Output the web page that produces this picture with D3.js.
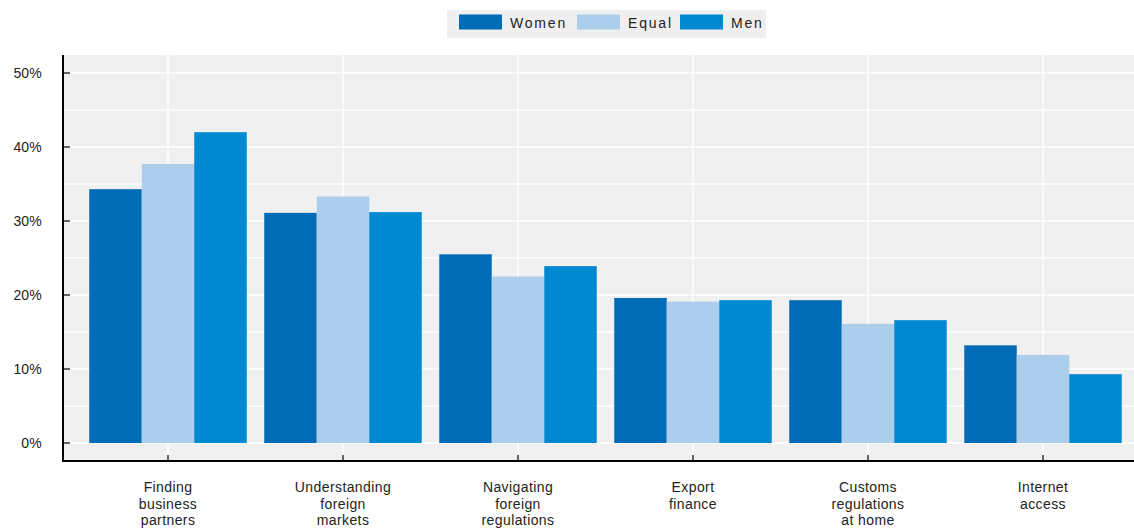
<!DOCTYPE html>
<html><head><meta charset="utf-8">
<script src="https://cdn.jsdelivr.net/npm/d3@7"></script>
<style>
body{margin:0;background:#fff;}
text{font-family:"Liberation Sans",Arial,sans-serif;fill:#222;}
</style></head>
<body><svg id="c" width="1134" height="528"></svg>
<script>
const categories = [
  ["Finding","business","partners"],
  ["Understanding","foreign","markets"],
  ["Navigating","foreign","regulations"],
  ["Export","finance"],
  ["Customs","regulations","at home"],
  ["Internet","access"]
];
const seriesNames = ["Women","Equal","Men"];
const women = [34.3, 31.1, 25.5, 19.6, 19.3, 13.2];
const equal = [37.7, 33.3, 22.5, 19.1, 16.1, 11.9];
const men   = [42.0, 31.2, 23.9, 19.3, 16.6, 9.3];
const yTicks = [0,10,20,30,40,50];
const colors = ["#006BB6","#ABCEEC","#0088D1"];

(function(){
const series = [women, equal, men];
const svg = d3.select("#c");
const pL = 63, pR = 1134, pT = 55, pB = 461;

const y = d3.scaleLinear().domain([0,50]).range([443,73]);
const keys = categories.map((c,i)=>i);
const x0 = d3.scaleBand().domain(keys).range([80.5,1130.5]).paddingInner(0.1).paddingOuter(0.05);
const x1 = d3.scaleBand().domain(seriesNames).range([0,x0.bandwidth()]);

svg.append("rect").attr("x",pL).attr("y",pT).attr("width",pR-pL).attr("height",pB-pT).attr("fill","#F0F0F0");

const grid = d3.range(0,51,5);
svg.append("g").selectAll("line").data(grid).join("line")
  .attr("x1",pL).attr("x2",pR).attr("y1",d=>y(d)).attr("y2",d=>y(d))
  .attr("stroke","#fff").attr("stroke-width",1.5);
svg.append("g").selectAll("line").data(keys).join("line")
  .attr("x1",d=>x0(d)+x0.bandwidth()/2).attr("x2",d=>x0(d)+x0.bandwidth()/2)
  .attr("y1",pT).attr("y2",pB).attr("stroke","#fff").attr("stroke-width",1.5);

const g = svg.append("g");
keys.forEach(i=>{
  seriesNames.forEach((s,j)=>{
    g.append("rect")
      .attr("x",x0(i)+x1(s)).attr("width",x1.bandwidth())
      .attr("y",y(series[j][i])).attr("height",y(0)-y(series[j][i]))
      .attr("fill",colors[j]);
  });
});

const yAxis = d3.axisLeft(y).tickValues(yTicks).tickFormat(d=>d+"%").tickSize(0).tickPadding(21);
const ya = svg.append("g").attr("transform",`translate(${pL},0)`).call(yAxis);
ya.select(".domain").remove();
ya.selectAll("text").attr("font-size",14).attr("letter-spacing","0.2px").style("font-family","'Liberation Sans',Arial,sans-serif").attr("fill","#222");
svg.append("g").selectAll("line").data(yTicks).join("line")
  .attr("x1",pL).attr("x2",pL+7).attr("y1",d=>y(d)).attr("y2",d=>y(d))
  .attr("stroke","#000").attr("stroke-width",1.2);
svg.append("line").attr("x1",pL).attr("x2",pL).attr("y1",pT).attr("y2",pB+1)
  .attr("stroke","#000").attr("stroke-width",2);

svg.append("line").attr("x1",pL-1).attr("x2",pR).attr("y1",pB).attr("y2",pB)
  .attr("stroke","#000").attr("stroke-width",2.2);
svg.append("g").selectAll("line").data(keys).join("line")
  .attr("x1",d=>x0(d)+x0.bandwidth()/2).attr("x2",d=>x0(d)+x0.bandwidth()/2)
  .attr("y1",pB-6).attr("y2",pB).attr("stroke","#000").attr("stroke-width",1.2);
const xl = svg.append("g");
keys.forEach(i=>{
  const t = xl.append("text").attr("text-anchor","middle").attr("font-size",14).attr("letter-spacing","0.4px")
    .attr("x",x0(i)+x0.bandwidth()/2).attr("y",492);
  categories[i].forEach((ln,k)=>{
    t.append("tspan").attr("x",x0(i)+x0.bandwidth()/2).attr("dy",k===0?0:16.5).text(ln);
  });
});

const lg = svg.append("g");
lg.append("rect").attr("x",447).attr("y",10).attr("width",319).attr("height",28).attr("fill","#EFEFEF");
const legX = [459, 577, 680];
seriesNames.forEach((s,j)=>{
  lg.append("rect").attr("x",legX[j]).attr("y",14.5).attr("width",43).attr("height",15).attr("fill",colors[j]);
  lg.append("text").attr("x",legX[j]+51).attr("y",28).attr("font-size",14).attr("letter-spacing","1.8px").text(s);
});
})();
</script></body></html>
